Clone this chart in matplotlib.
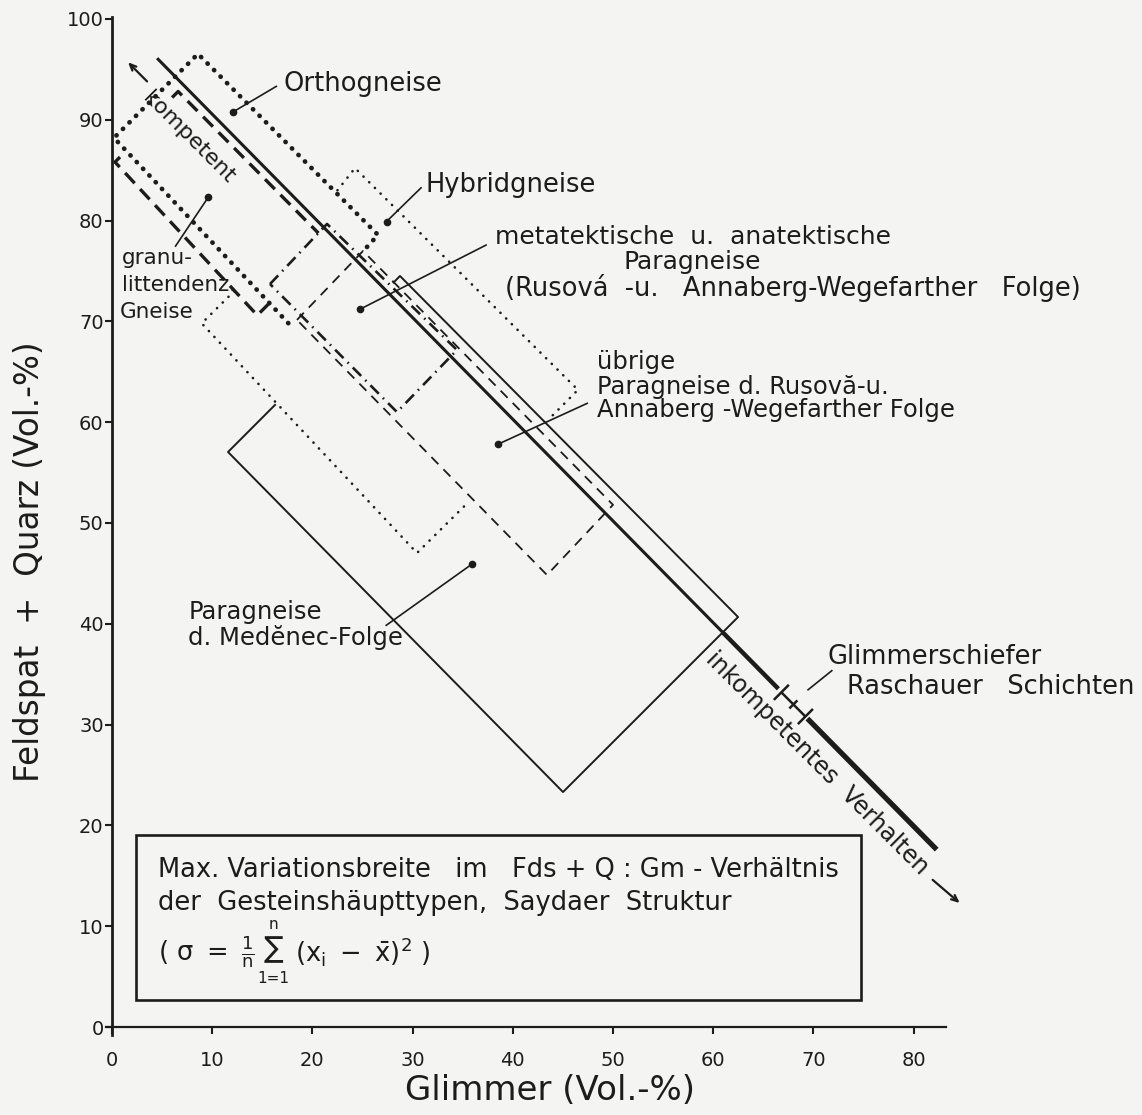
import matplotlib
matplotlib.use("Agg")
import matplotlib.pyplot as plt
from matplotlib.patches import Rectangle

plt.rcParams['font.family'] = ['DejaVu Sans']
plt.rcParams['mathtext.fontset'] = 'dejavusans'
plt.rcParams['mathtext.default'] = 'regular'

INK = '#1c1c1c'
PAPER = '#f4f4f2'

# ---------------------------------------------------------------- data
# Axis ticks
x_ticks = [0, 10, 20, 30, 40, 50, 60, 70, 80]
y_ticks = [0, 10, 20, 30, 40, 50, 60, 70, 80, 90, 100]

# Main trend line Fds+Q vs. Glimmer (break points; gap around the mica-schist bar)
main_gm = [4.5, 61.0, 66.5, 69.4, 82.3]
main_fq = [96.1, 39.1, 33.55, 30.6, 17.6]

# Visible outline pieces of the variation fields (Glimmer, Fds+Q)
ortho_gm = [25.45, 26.55, 8.58, 0.2, 17.8]
ortho_fq = [77.38, 78.57, 96.53, 88.2, 69.6]

granu_upper_gm = [6.0, 6.6, 20.6]
granu_upper_fq = [92.2, 92.8, 78.75]
granu_lower_gm = [0.8, 0.3, 14.5, 15.9]
granu_lower_fq = [86.3, 85.8, 70.6, 72.0]

hybrid_lower_gm = [12.2, 8.95, 30.44, 35.5]
hybrid_lower_fq = [73.0, 69.8, 47.02, 52.0]
hybrid_upper_gm = [22.5, 24.25, 46.5, 43.6]
hybrid_upper_fq = [83.0, 85.2, 63.2, 60.3]

meta_gm = [15.77, 21.46, 34.43, 28.44, 15.77]
meta_fq = [73.7, 79.66, 67.16, 61.0, 73.7]

ubrige_gm = [18.46, 25.05, 50.0, 43.41, 18.46]
ubrige_fq = [70.14, 76.98, 51.8, 44.84, 70.14]

medenec_gm = [16.27, 11.58, 45.01, 62.48, 28.74, 28.1]
medenec_fq = [61.71, 57.04, 23.31, 40.67, 74.50, 73.85]

# Glimmerschiefer (Raschauer Schichten): range bar on the trend line
schiefer_gm = [66.8, 69.2]
schiefer_fq = [33.2, 30.8]

# Arrows of the competence annotation (tail -> head)
komp_arrow = [(3.5, 93.8), (1.6, 95.7)]
inkomp_arrow = [(81.9, 14.6), (84.6, 12.3)]

# Leader lines: (text end), (marked point), draw dot
leaders = [
    ((16.47, 93.35), (12.08, 90.77), True),
    ((30.9, 83.3), (27.4, 79.9), True),
    ((37.4, 77.6), (24.75, 71.2), True),
    ((47.5, 61.9), (38.5, 57.8), True),
    ((6.3, 77.4), (9.6, 82.3), True),
    ((27.3, 39.8), (35.9, 45.9), True),
    ((71.9, 35.4), (69.4, 33.4), False),
]

# Labels: (x, y, text, size)
labels = [
    (17.07, 93.55, "Orthogneise", 18.5),
    (31.24, 83.53, "Hybridgneise", 18.5),
    (38.22, 78.4, "metatektische  u.  anatektische", 18),
    (51.0, 75.9, "Paragneise", 18),
    (39.22, 73.3, "(Rusová  -u.   Annaberg-Wegefarther   Folge)", 18.5),
    (48.4, 65.97, "übrige", 17.5),
    (48.4, 63.49, "Paragneise d. Rusovă-u.", 17.5),
    (48.4, 61.2, "Annaberg -Wegefarther Folge", 17.5),
    (1.0, 76.3, "granu-", 15.5),
    (1.0, 73.6, "littendenz.", 15.5),
    (0.8, 70.9, "Gneise", 15.5),
    (7.6, 41.2, "Paragneise", 17.5),
    (7.6, 38.6, "d. Medĕnec-Folge", 17.5),
    (71.36, 36.7, "Glimmerschiefer", 18.5),
    (73.35, 33.73, "Raschauer   Schichten", 18.5),
]

# Legend box text: (x, y, text, size, horizontal alignment)
box_lines = [
    (4.6, 15.6, "Max. Variationsbreite   im   Fds + Q : Gm - Verhältnis", 18.5, 'left'),
    (4.6, 12.3, "der  Gesteinshäupttypen,  Saydaer  Struktur", 18.5, 'left'),
    (4.6, 7.45, r"$(\ \sigma\ =\ \frac{1}{n}$", 18.5, 'left'),
    (16.1, 7.7, "\u2211", 21, 'center'),
    (16.1, 10.15, "n", 11, 'center'),
    (16.1, 4.8, "1=1", 11, 'center'),
    (18.3, 7.45, r"$(x_i\ -\ \bar{x})^2\ )$", 18.5, 'left'),
]
box_corner = (2.4, 2.7)
box_size = (72.3, 16.35)

# ---------------------------------------------------------------- figure
W, H = 1142, 1115
fig = plt.figure(figsize=(W / 100, H / 100), dpi=100, facecolor=PAPER)
ax = fig.add_axes([0.0928, 0.07166, 0.7353, 0.9132])
ax.set_facecolor(PAPER)
ax.set_xlim(-0.6, 83.2)
ax.set_ylim(-0.8, 100.2)
for s in ['top', 'right']:
    ax.spines[s].set_visible(False)
ax.spines['left'].set_position(('data', 0))
ax.spines['bottom'].set_position(('data', 0))
ax.spines['left'].set_linewidth(2.0)
ax.spines['bottom'].set_linewidth(1.6)
ax.spines['left'].set_color(INK)
ax.spines['bottom'].set_color(INK)
ax.set_xticks(x_ticks)
ax.set_yticks(y_ticks)
ax.tick_params(axis='both', direction='out', length=5, width=1.5,
               colors=INK, labelsize=14)
ax.tick_params(axis='y', pad=1)
ax.tick_params(axis='x', pad=12)

fig.text(550 / W, 1 - 1090 / H, "Glimmer (Vol.-%)", fontsize=24.5, color=INK,
         ha='center', va='center')
fig.text(30 / W, 1 - 562 / H, "Feldspat  +  Quarz (Vol.-%)", fontsize=23.5,
         color=INK, rotation=90, ha='center', va='center')

common = dict(color=INK, clip_on=False, solid_capstyle='butt')

# trend line
ax.plot(main_gm[0:2], main_fq[0:2], lw=2.2, **common)
ax.plot(main_gm[1:3], main_fq[1:3], lw=3.2, **common)
ax.plot(main_gm[3:5], main_fq[3:5], lw=3.8, **common)

heavy_dot = dict(lw=3.4, ls=(0, (0.05, 1.9)), dash_capstyle='round')
fine_dot = dict(lw=1.9, ls=(0, (0.05, 3.0)), dash_capstyle='round')
heavy_dash = dict(lw=2.4, ls=(0, (4.2, 2.4)), dash_capstyle='butt')
thin_dash = dict(lw=1.3, ls=(0, (5.5, 4.0)), dash_capstyle='butt')
dash_dot = dict(lw=1.9, ls=(0, (4.5, 2.2, 0.6, 2.2)), dash_capstyle='butt')
thin_solid = dict(lw=1.4)

ax.plot(ortho_gm, ortho_fq, color=INK, clip_on=False, **heavy_dot)
ax.plot(granu_upper_gm, granu_upper_fq, color=INK, clip_on=False, **heavy_dash)
ax.plot(granu_lower_gm, granu_lower_fq, color=INK, clip_on=False, **heavy_dash)
ax.plot(hybrid_lower_gm, hybrid_lower_fq, color=INK, clip_on=False, **fine_dot)
ax.plot(hybrid_upper_gm, hybrid_upper_fq, color=INK, clip_on=False, **fine_dot)
ax.plot(meta_gm, meta_fq, color=INK, clip_on=False, **dash_dot)
ax.plot(ubrige_gm, ubrige_fq, color=INK, clip_on=False, **thin_dash)
ax.plot(medenec_gm, medenec_fq, color=INK, clip_on=False, **thin_solid)

# mica-schist range bar with end caps and centre mark
sx0, sx1 = schiefer_gm
sy0, sy1 = schiefer_fq
ax.plot(schiefer_gm, schiefer_fq, lw=1.8, **common)
for (cx, cy, h) in [(sx0, sy0, 0.75), (sx1, sy1, 0.75),
                    ((sx0 + sx1) / 2, (sy0 + sy1) / 2, 0.4)]:
    ax.plot([cx - h, cx + h], [cy - h, cy + h], lw=1.8, **common)

# competence arrows
for (tail, head) in [komp_arrow, inkomp_arrow]:
    ax.annotate("", xy=head, xytext=tail, annotation_clip=False,
                arrowprops=dict(arrowstyle="->,head_length=0.45,head_width=0.2",
                                lw=1.6, color=INK, shrinkA=0, shrinkB=0))
ax.text(7.65, 88.25, "kompetent", rotation=-45, rotation_mode='anchor',
        ha='center', va='center', fontsize=16, color=INK)
ax.text(70.41, 26.14, "inkompetentes  Verhalten", rotation=-45,
        rotation_mode='anchor', ha='center', va='center', fontsize=17, color=INK)

# leader lines
for (p0, p1, dot) in leaders:
    ax.plot([p0[0], p1[0]], [p0[1], p1[1]], lw=1.2, **common)
    if dot:
        ax.plot([p1[0]], [p1[1]], 'o', ms=4.5, color=INK, clip_on=False)

for (x, y, t, s) in labels:
    ax.text(x, y, t, ha='left', va='center', fontsize=s, color=INK)

# legend box
ax.add_patch(Rectangle(box_corner, box_size[0], box_size[1], fill=False,
                       lw=1.9, edgecolor=INK, clip_on=False))
for (x, y, t, s, ha) in box_lines:
    ax.text(x, y, t, ha=ha, va='center', fontsize=s, color=INK)

fig.savefig("out.png", dpi=100, facecolor=PAPER)
